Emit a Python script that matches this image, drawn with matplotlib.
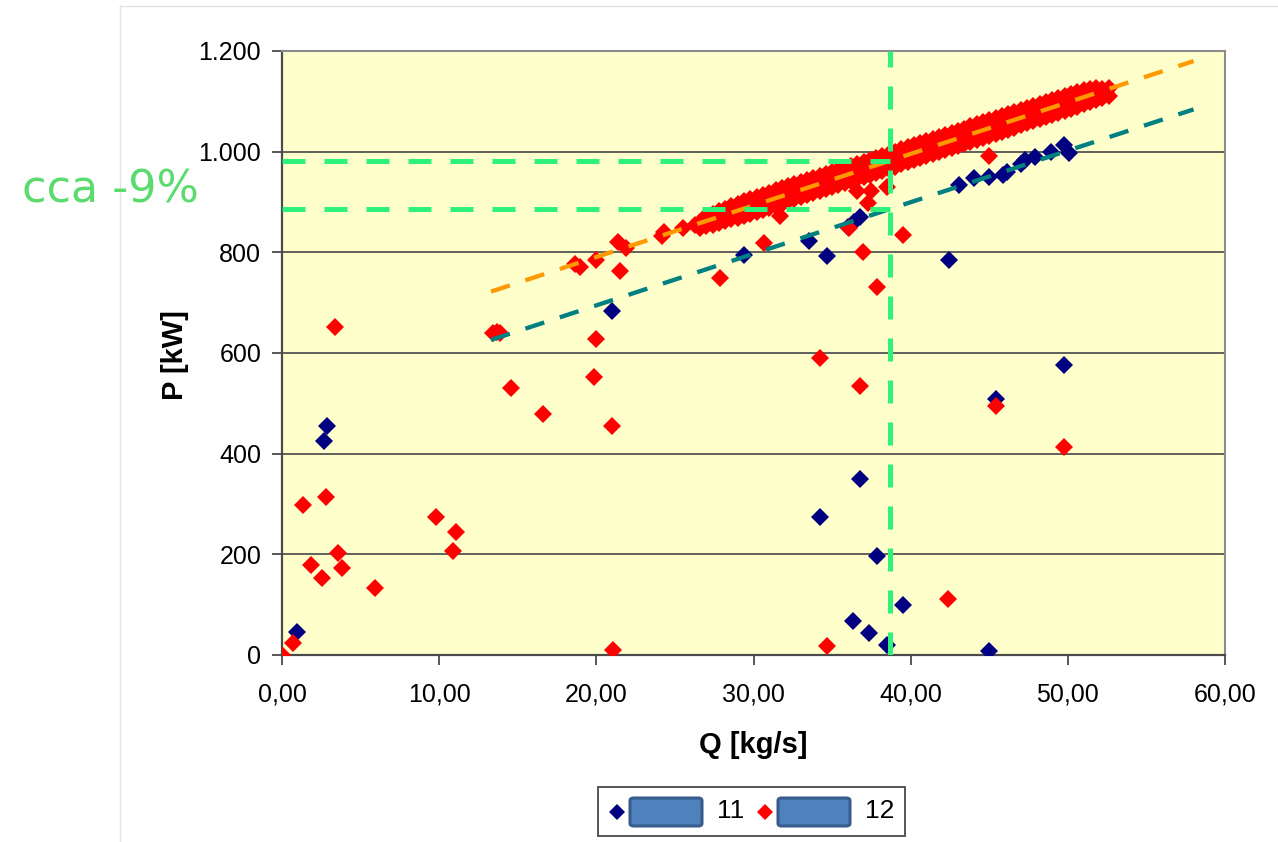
import matplotlib

matplotlib.use("Agg")
import matplotlib.pyplot as plt
from matplotlib.patches import Rectangle, FancyBboxPatch
from matplotlib.lines import Line2D
from matplotlib.ticker import FuncFormatter

# series "11" (navy diamonds)
q11 = [0.95, 2.69, 2.84, 21.0, 29.4, 33.5, 34.65, 36.0, 36.4, 36.8, 34.2, 36.8,
       37.85, 36.3, 37.36, 38.5, 39.5, 42.43, 45.0, 45.46, 49.77, 43.1, 44.0,
       45.0, 45.9, 46.1, 47.0, 47.3, 47.9, 48.9, 49.75, 50.1]
p11 = [46, 426, 455, 684, 795, 822, 793, 850, 860, 870, 274, 350,
       197, 68, 44, 20, 99, 785, 7, 509, 576, 933, 948,
       949, 953, 960, 976, 983, 990, 1000, 1013, 997]

# series "12" (red diamonds), scattered points
q12 = [0.0, 0.7, 1.35, 1.85, 2.55, 2.8, 3.4, 3.55, 3.8, 5.9, 9.8, 10.9, 11.05,
       13.4, 13.7, 13.9, 14.57, 16.6, 18.64, 18.96, 19.85, 19.97, 20.0, 21.0,
       21.05, 21.4, 21.5, 21.9, 24.2, 24.3, 25.5, 26.3, 27.86, 30.66, 31.7,
       34.2, 34.65, 36.07, 36.6, 36.8, 36.98, 37.3, 37.5, 37.87, 38.5, 39.5,
       42.4, 45.0, 45.46, 49.77]
p12 = [0, 24, 298, 179, 153, 314, 652, 202, 173, 133, 274, 207, 244,
       640, 642, 640, 531, 479, 777, 771, 552, 785, 628, 455,
       10, 821, 762, 808, 832, 840, 848, 855, 749, 818, 872,
       591, 18, 848, 922, 535, 801, 899, 921, 732, 929, 835,
       111, 991, 495, 414]

# series "12", dense band of operating points
q12_band = [26.6, 27.0, 27.4, 27.8, 28.2, 28.6, 29.0, 29.4, 29.8, 30.2, 30.6,
            31.0, 31.4, 31.8, 32.2, 32.6, 33.0, 33.4, 33.8, 34.2, 34.6, 35.0,
            35.4, 35.8, 36.2, 36.6, 37.0, 37.4, 37.8, 38.2, 38.6, 39.0, 39.4,
            39.8, 40.2, 40.6, 41.0, 41.4, 41.8, 42.2, 42.6, 43.0, 43.4, 43.8,
            44.2, 44.6, 45.0, 45.4, 45.8, 46.2, 46.6, 47.0, 47.4, 47.8, 48.2,
            48.6, 49.0, 49.4, 49.8, 50.2, 50.6, 51.0, 51.4, 51.8, 52.2, 52.6]
p12_band_a = [860, 852, 877, 859, 887, 866, 896, 873, 905, 881, 913,
              889, 923, 897, 931, 905, 939, 913, 947, 921, 955, 930,
              964, 938, 972, 946, 980, 954, 988, 962, 996, 970, 1005,
              979, 1013, 987, 1021, 995, 1029, 1003, 1037, 1012, 1046, 1020,
              1054, 1028, 1062, 1036, 1070, 1044, 1078, 1053, 1087, 1061, 1095,
              1069, 1103, 1077, 1111, 1085, 1118, 1094, 1125, 1103, 1125, 1111]
p12_band_b = [848, 873, 855, 883, 862, 892, 869, 901, 877, 909, 885,
              918, 893, 927, 901, 935, 909, 943, 917, 951, 925, 960,
              934, 968, 942, 976, 950, 984, 958, 992, 966, 1000, 975,
              1009, 983, 1017, 991, 1025, 999, 1033, 1007, 1041, 1016, 1050,
              1024, 1058, 1032, 1066, 1040, 1074, 1048, 1082, 1057, 1091, 1065,
              1099, 1073, 1107, 1081, 1115, 1089, 1122, 1098, 1127, 1107, 1127]
q12_mid = [26.8, 27.6, 28.4, 29.2, 30.0, 30.8, 31.6, 32.4, 33.2, 34.0, 34.8,
           35.6, 36.4, 37.2, 38.0, 38.8, 39.6, 40.4, 41.2, 42.0, 42.8, 43.6,
           44.4, 45.2, 46.0, 46.8, 47.6, 48.4, 49.2, 50.0, 50.8, 51.6, 52.4]
p12_mid = [861, 869, 877, 885, 893, 902, 910, 918, 926, 934, 942,
           951, 959, 967, 975, 983, 992, 1000, 1008, 1016, 1024, 1033,
           1041, 1049, 1057, 1065, 1074, 1082, 1090, 1098, 1106, 1115, 1118]

# linear trend lines
trend12_q = [13.3, 58.0]
trend12_p = [722, 1180]
trend11_q = [13.3, 58.0]
trend11_p = [626, 1084]

# green guide lines
q_mark = 38.7
p_upper = 982
p_lower = 886

W, H = 1278, 842


def fx(px):
    return px / W


def fy(py):
    return 1 - py / H


fig = plt.figure(figsize=(W / 100, H / 100), dpi=100)
fig.patch.set_facecolor("white")

# outer chart frame
fig.add_artist(Line2D([fx(120), fx(120)], [fy(6), 0], color="#e3e3e3", lw=1.0))
fig.add_artist(Line2D([fx(120), 1], [fy(6), fy(6)], color="#e3e3e3", lw=1.0))

ax = fig.add_axes([fx(282), fy(655), fx(1225) - fx(282), fy(51) - fy(655)])
ax.set_facecolor("#ffffcc")

ax.set_xlim(0, 60)
ax.set_ylim(0, 1200)
ax.set_xticks(range(0, 61, 10))
ax.set_yticks(range(0, 1201, 200))
ax.yaxis.set_major_formatter(FuncFormatter(lambda v, _: f"{int(v):,}".replace(",", ".")))
ax.xaxis.set_major_formatter(FuncFormatter(lambda v, _: f"{v:.2f}".replace(".", ",")))

for y in range(200, 1200, 200):
    ax.axhline(y, color="#555555", lw=1.3, zorder=1)

mk = dict(marker="D", ms=9.5, mew=0, ls="none")
ax.plot(q11, p11, color="#000080", zorder=3, **mk)
ax.plot(q12_band, p12_band_a, color="#ff0000", zorder=4, **mk)
ax.plot(q12_band, p12_band_b, color="#ff0000", zorder=4, **mk)
ax.plot(q12_mid, p12_mid, color="#ff0000", zorder=4, **mk)
ax.plot(q12, p12, color="#ff0000", zorder=4, **mk)

ax.plot(trend12_q, trend12_p, color="#ff9900", lw=3.1, ls=(0, (4.6, 3.8)), zorder=5)
ax.plot(trend11_q, trend11_p, color="#008080", lw=3.1, ls=(0, (4.6, 3.8)), zorder=5)

green = "#2ef27a"
ax.plot([q_mark, q_mark], [0, 1200], color=green, lw=3.6, ls=(0, (4.6, 3.8)), zorder=6)
ax.plot([0, q_mark], [p_upper, p_upper], color=green, lw=3.6, ls=(0, (4.6, 3.8)), zorder=6)
ax.plot([0, q_mark], [p_lower, p_lower], color=green, lw=3.6, ls=(0, (4.6, 3.8)), zorder=6)

for side in ["top", "right"]:
    ax.spines[side].set_color("#8c8c8c")
    ax.spines[side].set_linewidth(1.5)
for side in ["left", "bottom"]:
    ax.spines[side].set_color("#4a4a4a")
    ax.spines[side].set_linewidth(1.6)

ax.tick_params(axis="both", direction="out", length=7, width=1.3, color="#4a4a4a",
               labelsize=18, labelcolor="black")
ax.tick_params(axis="x", pad=13)
ax.tick_params(axis="y", pad=8)
for lab in ax.get_xticklabels() + ax.get_yticklabels():
    lab.set_family("Liberation Sans")

fig.text(fx(175), fy(355), "P [kW]", rotation=90, ha="center", va="center",
         fontsize=21, fontweight="bold", family="Liberation Sans")
fig.text(fx(753), fy(745), "Q [kg/s]", ha="center", va="center",
         fontsize=21, fontweight="bold", family="Liberation Sans")

fig.text(fx(22), fy(190), "cca -9%", ha="left", va="center", fontsize=32,
         color="#5bdb6e", family="DejaVu Sans")

# legend
fig.add_artist(Rectangle((fx(598), fy(836)), fx(905) - fx(598), fy(787) - fy(836),
                         transform=fig.transFigure, fill=False, edgecolor="#555555", lw=1.4))
legend_items = [("11", "#000080", 617, 630, 717), ("12", "#ff0000", 765, 778, 865)]
for name, col, mx, rx, tx in legend_items:
    fig.add_artist(Line2D([fx(mx)], [fy(812)], marker="D", color=col, ms=8.5, mew=0,
                          ls="none", transform=fig.transFigure))
    fig.add_artist(FancyBboxPatch((fx(rx), fy(826)), fx(rx + 72) - fx(rx), fy(798) - fy(826),
                                  boxstyle="round,pad=0,rounding_size=0.003",
                                  transform=fig.transFigure, facecolor="#4f81bd",
                                  edgecolor="#385d8a", lw=2.2))
    fig.text(fx(tx), fy(811), name, ha="left", va="center", fontsize=19,
             family="Liberation Sans")

fig.savefig("out.png", dpi=100)
